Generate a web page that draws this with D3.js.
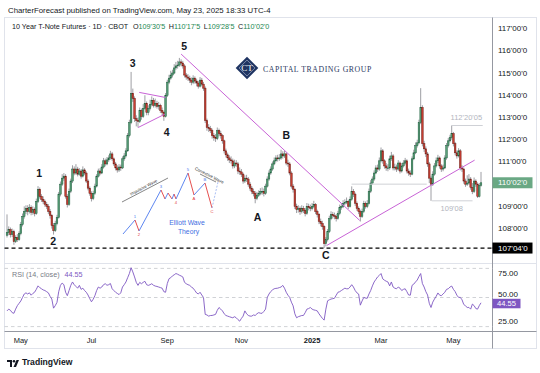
<!DOCTYPE html>
<html lang="en">
<head>
<meta charset="UTF-8">
<title>10 Year T-Note Futures - 1D</title>
<script src="https://d3js.org/d3.v7.min.js"></script>
<style>
  body { margin: 0; background: #fff; }
  svg { display: block; font-family: "Liberation Sans", Arial, sans-serif; }
</style>
</head>
<body>
<svg width="540" height="373"></svg>
<script>
// trading calendar (CBOT daily bars)
const firstDay = "2024-04-19", lastDay = "2025-05-23";
const holidays = ["2024-05-27", "2024-06-19", "2024-07-04", "2024-09-02", "2024-11-28",
                  "2024-12-25", "2025-01-01", "2025-01-20", "2025-02-17", "2025-04-18"];

// daily prices
const firstOpen = 107.70;
const closes = [
  107.82,107.95,107.73,107.86,107.41,107.59,107.50,107.77,108.18,108.55,
  108.77,108.91,108.77,108.95,108.73,108.86,108.68,109.23,109.77,109.45,
  109.32,109.23,109.09,109.00,108.77,108.59,108.14,107.91,108.23,108.50,
  109.55,110.00,110.27,110.36,109.45,109.09,109.68,110.14,110.68,110.50,
  110.68,110.45,110.59,110.36,110.64,110.50,110.14,109.82,109.59,109.36,
  109.59,109.91,110.36,110.59,110.50,110.77,111.05,110.91,111.09,111.18,
  111.36,111.14,110.91,110.73,110.64,110.77,110.73,111.14,111.27,111.50,
  112.18,112.77,114.09,113.86,112.95,112.86,112.82,113.32,113.05,113.41,
  113.64,113.23,113.41,113.59,113.77,113.55,113.64,113.50,113.55,113.32,
  113.23,113.05,114.00,114.59,114.77,114.91,115.00,115.23,115.32,115.36,
  115.50,115.45,115.32,114.91,114.82,114.77,114.68,114.59,114.77,114.64,
  114.55,114.41,114.68,114.50,114.32,112.86,112.55,112.50,112.41,112.18,
  112.09,112.05,112.41,112.27,112.18,111.95,111.50,111.32,111.18,111.09,
  111.05,110.82,110.95,110.91,110.59,110.55,110.45,110.14,110.27,110.23,
  110.00,109.82,109.68,109.59,109.36,109.50,109.59,109.68,109.68,109.59,
  109.91,110.23,110.50,110.68,110.91,111.05,111.18,111.14,111.18,111.36,
  111.27,111.36,110.95,110.91,110.50,109.91,109.77,109.00,108.86,108.91,
  108.77,108.91,108.82,108.68,109.00,108.95,108.91,109.00,109.09,108.77,
  108.64,108.32,108.23,108.09,107.32,107.50,107.86,108.45,108.64,108.59,
  108.55,108.45,108.68,108.95,109.00,109.14,109.18,109.23,109.00,109.32,
  109.68,109.55,109.14,108.91,108.77,108.55,108.77,109.14,109.00,109.14,
  109.68,110.05,110.23,110.50,110.73,110.68,111.05,111.50,111.05,110.82,
  110.73,110.73,111.14,111.27,110.73,110.77,110.68,110.95,110.59,110.82,
  110.95,111.05,110.59,110.50,110.45,111.14,111.41,111.73,111.86,112.77,
  113.45,111.82,111.59,111.36,110.91,110.27,110.00,110.45,110.82,111.05,
  111.18,110.82,110.68,110.73,111.18,111.73,111.95,112.09,112.27,111.82,
  111.41,111.27,111.50,110.73,110.68,110.14,110.00,110.05,110.23,109.86,
  109.68,110.14,110.00,109.45,109.95,110.0625
];
const highs = [
  108.64,108.10,108.05,108.00,107.95,107.70,107.75,107.88,108.30,108.68,
  109.00,109.05,109.05,109.10,109.05,109.00,108.95,109.35,109.91,109.85,
  109.55,109.45,109.30,109.20,109.10,108.88,108.65,108.25,108.35,108.62,
  109.65,110.12,110.45,110.50,110.45,109.55,109.80,110.25,110.85,110.80,
  110.90,110.78,110.72,110.68,110.80,110.72,110.58,110.22,109.90,109.68,
  109.70,110.02,110.45,110.70,110.72,110.90,111.18,111.15,111.22,111.30,
  111.50,111.45,111.20,111.00,110.85,110.90,110.88,111.25,111.40,111.62,
  112.30,112.90,115.05,114.30,113.95,113.10,113.00,113.45,113.40,113.60,
  114.00,113.72,113.55,113.80,113.95,113.88,113.85,113.75,113.70,113.62,
  113.45,113.30,114.10,114.70,114.92,115.10,115.15,115.40,115.50,115.55,
  115.68,115.62,115.55,115.40,115.00,114.95,114.88,114.80,114.90,114.85,
  114.75,114.65,114.82,114.78,114.60,114.40,112.95,112.70,112.62,112.50,
  112.30,112.25,112.55,112.50,112.40,112.25,112.00,111.60,111.42,111.30,
  111.25,111.15,111.10,111.08,111.00,110.75,110.68,110.52,110.40,110.42,
  110.32,110.10,109.92,109.80,109.68,109.65,109.72,109.82,109.85,109.80,
  110.02,110.35,110.62,110.80,111.02,111.20,111.30,111.32,111.35,111.55,
  111.48,111.50,111.42,111.10,111.00,110.58,110.00,109.82,109.12,109.05,
  109.00,109.05,109.02,108.92,109.15,109.12,109.08,109.15,109.25,109.15,
  108.85,108.70,108.45,108.35,108.15,107.62,107.98,108.58,108.78,108.75,
  108.72,108.65,108.80,109.08,109.15,109.28,109.32,109.40,109.30,109.45,
  109.90,109.78,109.62,109.22,109.00,108.85,108.90,109.25,109.22,109.28,
  109.80,110.18,110.35,110.62,110.85,110.88,111.20,111.65,111.58,111.12,
  110.95,110.90,111.28,111.45,111.35,110.92,110.88,111.08,111.02,110.95,
  111.08,111.18,111.12,110.70,110.62,111.25,111.55,111.88,112.00,112.90,
  114.32,113.55,111.95,111.70,111.45,111.00,110.35,110.58,110.95,111.20,
  111.32,111.25,110.90,110.88,111.30,111.85,112.08,112.22,112.64,112.35,
  111.90,111.52,111.62,111.58,110.85,110.75,110.25,110.40,110.45,110.32,
  110.05,110.30,110.22,110.08,110.05,110.55
];
const lows = [
  107.60,107.70,107.60,107.62,107.27,107.35,107.40,107.45,107.70,108.10,
  108.45,108.65,108.60,108.68,108.60,108.62,108.55,108.62,109.15,109.35,
  109.20,109.10,108.98,108.88,108.65,108.45,108.00,107.73,107.85,108.15,
  108.45,109.45,109.92,110.15,109.35,108.95,109.02,109.60,110.05,110.40,
  110.42,110.35,110.38,110.25,110.30,110.40,110.05,109.72,109.48,109.22,
  109.28,109.52,109.85,110.30,110.40,110.45,110.70,110.80,110.85,111.00,
  111.10,111.05,110.82,110.62,110.52,110.55,110.60,110.68,111.05,111.20,
  111.45,112.10,112.70,113.70,112.80,112.60,112.55,112.75,112.90,112.98,
  113.35,113.10,113.10,113.32,113.50,113.45,113.45,113.40,113.35,113.20,
  113.10,112.85,113.00,113.92,114.50,114.70,114.80,114.95,115.15,115.20,
  115.28,115.30,115.20,114.80,114.70,114.65,114.55,114.45,114.50,114.52,
  114.40,114.30,114.35,114.40,114.20,112.75,112.40,112.35,112.30,112.05,
  111.95,111.90,111.98,112.15,112.05,111.82,111.38,111.20,111.05,110.95,
  110.92,110.70,110.72,110.78,110.45,110.42,110.32,110.02,110.05,110.10,
  109.88,109.70,109.55,109.45,109.14,109.28,109.42,109.50,109.52,109.45,
  109.52,109.85,110.15,110.42,110.60,110.85,110.98,111.02,111.05,111.10,
  111.15,111.18,110.85,110.78,110.40,109.80,109.62,108.88,108.70,108.72,
  108.62,108.68,108.70,108.55,108.62,108.82,108.78,108.82,108.92,108.65,
  108.50,108.20,108.10,107.95,107.125,107.20,107.42,107.80,108.38,108.45,
  108.42,108.32,108.40,108.60,108.85,108.92,109.05,109.10,108.88,108.95,
  109.25,109.42,109.02,108.80,108.65,108.32,108.48,108.70,108.90,108.92,
  109.08,109.60,109.98,110.15,110.45,110.55,110.60,110.98,110.92,110.70,
  110.60,110.58,110.65,111.05,110.62,110.62,110.55,110.60,110.48,110.52,
  110.75,110.88,110.48,110.38,110.32,110.40,111.08,111.35,111.65,111.80,
  112.70,111.70,111.45,111.22,110.78,110.05,109.25,109.92,110.38,110.75,
  110.95,110.70,110.55,110.58,110.68,111.10,111.65,111.88,112.00,111.70,
  111.30,111.15,111.20,110.62,110.55,110.02,109.88,109.92,109.98,109.75,
  109.55,109.60,109.88,109.38,109.40,109.89
];
// RSI (14, close)
const rsi = [
  36.2,38,36.8,34.4,33.7,38,41.6,44,46.4,50,
  53.6,54.8,53.6,54.8,52.4,54.2,55.4,58.4,62,60.2,
  59,57.8,57.2,56,54.8,51.2,48.4,39,41.6,45,
  56,62.5,64.9,63.2,55.4,51.9,57.2,62.5,66,63.2,
  61.4,59.6,62.5,58.4,59.6,57.2,55.4,52.6,48.8,45.6,
  48.2,51.9,57.2,60.8,59.6,60.8,63.2,64.2,62.6,63.2,
  64.4,59,57.2,55.4,54.2,53,54.8,60.8,63.2,66,
  70.4,74.7,80.7,76.4,71.2,65.6,62.5,65.6,64.2,65.6,
  66.7,63.2,62.5,63.2,64.2,62.6,61.8,61.4,60.8,60.2,
  59.6,56,55.4,64.4,69.4,70.4,72.3,73.4,74.7,74,
  73,72.2,71.2,65.6,64.2,63.2,62.5,60.8,59.6,57.2,
  54.7,53.6,55.4,52.6,50,32.6,32,30.8,31.4,31.5,
  32,32.6,36.8,39.7,38,36.2,33.2,31.5,30.8,30.2,
  29.6,29.1,30.2,29.1,27.2,25.6,28.4,30.8,36.2,33.2,
  31.5,30.8,30.8,32,31.5,33.2,34.4,33.8,33.7,35.6,
  38,50.1,53.6,56.1,57.8,59,59.4,59.6,60.2,60.8,
  62.5,59.6,55.4,52.4,50.1,45.2,41.4,33.2,29.1,30.2,
  30.8,31.4,31.5,34.4,38,38.6,39.7,38,37.2,36.8,
  36.2,33.2,30.8,28.4,26.7,38,46.6,47.6,48.4,48.8,
  49.2,52.4,55.4,56,57.2,58.4,59.6,59,59,60.8,
  63.2,60.8,57.2,54.8,53.6,42.1,46.4,50.1,49.4,49.2,
  53.6,57.2,62,66,68.6,71.2,72.8,74.7,69.2,67.8,
  66.8,66,62,66,60.8,59.6,59,60.8,59.6,57.2,
  58.4,59,56,52.6,52.4,62.5,63.8,66,68,71.6,
  74.7,64.4,60.8,56,52.6,44,39.7,45.2,48.4,51.2,
  54.7,52.4,51.9,53.6,55.4,58.4,59,60.8,61.8,58.4,
  56.1,52.4,50.1,50.1,47.6,42.8,41.4,39.7,39.8,38,
  43.2,41.6,38.6,38,41.6,44.55
];

// axes
const priceTicks = [108, 109, 111, 112, 113, 114, 115, 116, 117];
const rsiTicks = [75, 50, 25];
const rsiBands = [80, 50, 20];
const timeTicks = ["2024-05-01", "2024-07-01", "2024-09-03", "2024-11-01", "2025-01-02", "2025-03-03", "2025-05-01"];
const timeTickLabels = ["May", "Jul", "Sep", "Nov", "2025", "Mar", "May"];

// drawings (bar position, price)
const waveLabels = ["1", "2", "3", "4", "5", "A", "B", "C"];
const waveBar = [18.6, 26.8, 72.9, 92.6, 102.8, 145.3, 162.1, 184.9];
const wavePrice = [110.49, 107.44, 115.44, 112.35, 116.23, 108.52, 112.23, 106.79];
const trendLines = [
  [[101, 115.855], [204.6, 108.37]],
  [[185.5, 107.24], [271.3, 111.08]],
  [[76.7, 114.13], [92.0, 113.90]],
  [[76.1, 112.55], [91.6, 113.15]]
];
const supportPrice = 107.125;
const greyLevels = [[199.9, 243.5, 110.0], [246.4, 270.1, 109.25], [258, 276, 112.64]];
const hiLoText = ["112'20'05", "109'08"];
const legendOHLC = [["O", "109'30'5"], ["H", "110'17'5"], ["L", "109'28'5"], ["C", "110'02'0"]];
const lastPrice = 110.0625, lastRsi = 44.55;

// Elliott wave sketch (schematic units)
const ewX = [3, 15, 19, 41, 45, 48, 52, 54, 56, 68, 74, 85, 92, 98];
const ewY = [64, 50, 61, 20, 29, 23, 29, 24, 29, 3, 25, 13, 38, 12];
const ewTags = ["", "1", "2", "3", "", "", "", "", "4", "5", "A", "B", "C", ""];

// ---------- build ----------
const dates = [];
for (let d = new Date(firstDay + "T12:00:00Z"); d <= new Date(lastDay + "T12:00:00Z"); d.setUTCDate(d.getUTCDate() + 1)) {
  const wd = d.getUTCDay(), iso = d.toISOString().slice(0, 10);
  if (wd !== 0 && wd !== 6 && !holidays.includes(iso)) dates.push(iso);
}
const n = Math.min(dates.length, closes.length);
const bars = d3.range(n).map(i => ({
  date: dates[i],
  o: i === 0 ? firstOpen : closes[i - 1],
  h: highs[i], l: lows[i], c: closes[i], r: rsi[i]
}));

const svg = d3.select("svg");
const axisX = 492.5, frameL = 4.5, frameR = 536.5, frameT = 17.5, paneSep = 263.5, timeTop = 331.5, frameB = 348.5;

const x = d3.scalePoint().domain(bars.map(d => d.date)).range([7, 481]);
const xi = i => x.range()[0] + i * x.step();
const y = d3.scaleLinear().domain([108, 117]).range([228.6, 28.6]);
const yR = d3.scaleLinear().domain([20, 80]).range([326.6, 268.4]);
const fmt32 = p => `${p}'00'0`;

const defs = svg.append("defs");
defs.append("clipPath").attr("id", "main").append("rect")
  .attr("x", frameL).attr("y", frameT).attr("width", axisX - frameL).attr("height", paneSep - frameT);
defs.append("clipPath").attr("id", "rsi").append("rect")
  .attr("x", frameL).attr("y", paneSep).attr("width", axisX - frameL).attr("height", timeTop - paneSep);

// header
svg.append("text").attr("x", 8).attr("y", 13).attr("font-size", 7.8).attr("fill", "#131722")
  .text("CharterForecast published on TradingView.com, May 23, 2025 18:33 UTC-4");

// frame
svg.append("rect").attr("x", frameL).attr("y", frameT).attr("width", frameR - frameL).attr("height", frameB - frameT)
  .attr("fill", "none").attr("stroke", "#e0e3eb");
svg.append("line").attr("x1", frameL).attr("x2", frameR).attr("y1", paneSep).attr("y2", paneSep).attr("stroke", "#e0e3eb");
svg.append("line").attr("x1", frameL).attr("x2", frameR).attr("y1", timeTop).attr("y2", timeTop).attr("stroke", "#9598a1");
svg.append("line").attr("x1", axisX).attr("x2", axisX).attr("y1", frameT).attr("y2", frameB).attr("stroke", "#9598a1");

// legend
const lg = svg.append("text").attr("x", 12).attr("y", 28.5).attr("font-size", 7.2).attr("fill", "#131722");
lg.append("tspan").text("10 Year T-Note Futures · 1D · CBOT");
legendOHLC.forEach(([k, v], i) => {
  lg.append("tspan").attr("dx", i === 0 ? 5 : 3.5).attr("fill", "#131722").text(k);
  lg.append("tspan").attr("fill", "#22864f").text(v);
});

// Capital Trading Group logo
const logo = svg.append("g").attr("transform", "translate(247,68)");
logo.append("rect").attr("x", -8).attr("y", -8).attr("width", 16).attr("height", 16)
  .attr("transform", "rotate(45)").attr("fill", "#1f3462");
logo.append("rect").attr("x", -5.6).attr("y", -5.6).attr("width", 11.2).attr("height", 11.2)
  .attr("transform", "rotate(45)").attr("fill", "none").attr("stroke", "#c9d1e4").attr("stroke-width", 0.5);
logo.append("text").attr("y", 3).attr("text-anchor", "middle").attr("font-family", "Liberation Serif, serif")
  .attr("font-size", 9).attr("fill", "#fff").text("CT");
svg.append("text").attr("x", 263).attr("y", 71.5).attr("font-family", "Liberation Serif, serif")
  .attr("font-size", 7.8).attr("letter-spacing", 0.55).attr("fill", "#2d3a63").text("CAPITAL TRADING GROUP");

// candles
const main = svg.append("g").attr("clip-path", "url(#main)");
main.selectAll("line.wick").data(bars).join("line").attr("class", "wick")
  .attr("x1", (d, i) => xi(i)).attr("x2", (d, i) => xi(i))
  .attr("y1", d => y(d.h)).attr("y2", d => y(d.l))
  .attr("stroke", "#85878d").attr("stroke-width", 0.8);
main.selectAll("rect.body").data(bars).join("rect").attr("class", "body")
  .attr("x", (d, i) => xi(i) - 0.8).attr("width", 1.6)
  .attr("y", d => y(Math.max(d.o, d.c)))
  .attr("height", d => Math.max(0.8, Math.abs(y(d.o) - y(d.c))))
  .attr("fill", d => d.c >= d.o ? "#5a9f79" : "#c93f33")
  .attr("stroke", d => d.c >= d.o ? "#1c5e3c" : "#6e1a12").attr("stroke-width", 0.5);

// trend lines
main.selectAll("line.trend").data(trendLines).join("line").attr("class", "trend")
  .attr("x1", d => xi(d[0][0])).attr("y1", d => y(d[0][1]))
  .attr("x2", d => xi(d[1][0])).attr("y2", d => y(d[1][1]))
  .attr("stroke", "#c863d6").attr("stroke-width", 1);

// grey levels and high/low tags
main.selectAll("line.lvl").data(greyLevels).join("line").attr("class", "lvl")
  .attr("x1", d => xi(d[0])).attr("x2", d => xi(d[1])).attr("y1", d => y(d[2])).attr("y2", d => y(d[2]))
  .attr("stroke", "#cfd1d6").attr("stroke-width", 1);
svg.append("text").attr("x", xi(266.5)).attr("y", y(greyLevels[2][2]) - 5).attr("text-anchor", "middle")
  .attr("font-size", 7.5).attr("fill", "#b2b5be").text(hiLoText[0]);
svg.append("text").attr("x", xi(258)).attr("y", y(greyLevels[1][2]) + 10.5).attr("text-anchor", "middle")
  .attr("font-size", 7.5).attr("fill", "#b2b5be").text(hiLoText[1]);

// support dashed line
svg.append("line").attr("x1", frameL).attr("x2", axisX).attr("y1", y(supportPrice)).attr("y2", y(supportPrice))
  .attr("stroke", "#000").attr("stroke-width", 1.2).attr("stroke-dasharray", "4,3");

// wave labels
svg.selectAll("text.wave").data(waveLabels).join("text").attr("class", "wave")
  .attr("x", (d, i) => xi(waveBar[i])).attr("y", (d, i) => y(wavePrice[i]))
  .attr("text-anchor", "middle").attr("dominant-baseline", "central")
  .attr("font-size", 10.5).attr("font-weight", 700).attr("fill", "#131722").text(d => d);

// Elliott wave sketch
const ex = d3.scaleLinear().domain([0, 100]).range([120, 220]);
const ey = d3.scaleLinear().domain([0, 65]).range([170, 235]);
const sketch = svg.append("g");
d3.range(ewX.length - 1).forEach(i => {
  const up = ewY[i + 1] < ewY[i], last = i === ewX.length - 2;
  sketch.append("line")
    .attr("x1", ex(ewX[i])).attr("y1", ey(ewY[i])).attr("x2", ex(ewX[i + 1])).attr("y2", ey(ewY[i + 1]))
    .attr("stroke", last ? "#9fb7f2" : up ? "#4b78ee" : "#e23b3b").attr("stroke-width", 0.9)
    .attr("stroke-dasharray", last ? "2,1.5" : null);
});
ewTags.forEach((t, i) => {
  if (!t) return;
  const peak = i > 0 && ewY[i] < ewY[i - 1];
  sketch.append("text").attr("x", ex(ewX[i])).attr("y", ey(ewY[i]) + (peak ? -2 : 5))
    .attr("text-anchor", "middle").attr("font-size", 4.2)
    .attr("fill", peak ? "#4b78ee" : "#e23b3b").text(t);
});
const notes = [
  { text: "Impulsive Wave", a: [2, 32], b: [48, 8] },
  { text: "Corrective Wave", a: [80, 4], b: [96, 12] }
];
notes.forEach(nt => {
  const x1 = ex(nt.a[0]), y1 = ey(nt.a[1]), x2 = ex(nt.b[0]), y2 = ey(nt.b[1]);
  const ang = Math.atan2(y2 - y1, x2 - x1) * 180 / Math.PI;
  sketch.append("line").attr("x1", x1).attr("y1", y1).attr("x2", x2).attr("y2", y2)
    .attr("stroke", "#333").attr("stroke-width", 0.6);
  sketch.append("text").attr("transform", `translate(${(x1 + x2) / 2},${(y1 + y2) / 2}) rotate(${ang}) translate(0,-1.5)`)
    .attr("text-anchor", "middle").attr("font-size", 4.3).attr("fill", "#333").text(nt.text);
});
sketch.append("text").attr("x", 187).attr("y", 224.5).attr("text-anchor", "middle")
  .attr("font-size", 6.8).attr("fill", "#3f6fe2").text("Elliott Wave");
sketch.append("text").attr("x", 188.5).attr("y", 233.5).attr("text-anchor", "middle")
  .attr("font-size", 6.8).attr("fill", "#3f6fe2").text("Theory");

// price axis
svg.selectAll("text.pt").data(priceTicks).join("text").attr("class", "pt")
  .attr("x", 498).attr("y", d => y(d)).attr("dominant-baseline", "central")
  .attr("font-size", 8).attr("fill", "#131722").text(fmt32);
const tag = (yy, fill, label, w) => {
  svg.append("rect").attr("x", axisX).attr("y", yy - 5.5).attr("width", w).attr("height", 11).attr("fill", fill);
  svg.append("text").attr("x", 498).attr("y", yy).attr("dominant-baseline", "central")
    .attr("font-size", 8).attr("fill", "#fff").text(label);
};
svg.append("line").attr("x1", axisX).attr("x2", axisX + 4).attr("y1", y(supportPrice)).attr("y2", y(supportPrice)).attr("stroke", "#000");
tag(y(supportPrice), "#000", "107'04'0", 40);
tag(y(lastPrice), "#6aa884", "110'02'0", 40);

// RSI pane
svg.selectAll("line.band").data(rsiBands).join("line").attr("class", "band")
  .attr("x1", frameL).attr("x2", axisX).attr("y1", d => yR(d)).attr("y2", d => yR(d))
  .attr("stroke", "#c4c6cc").attr("stroke-width", 0.8).attr("stroke-dasharray", "3.5,3");
svg.append("g").attr("clip-path", "url(#rsi)").append("path").datum(bars)
  .attr("d", d3.line().x((d, i) => xi(i)).y(d => yR(d.r)))
  .attr("fill", "none").attr("stroke", "#7e57c2").attr("stroke-width", 0.9);
// 50.00 sits just above the last-value tag, as on the original scale
svg.selectAll("text.rt").data(rsiTicks).join("text").attr("class", "rt")
  .attr("x", 498).attr("y", d => yR(d) - (d === 50 ? 3 : 0)).attr("dominant-baseline", "central")
  .attr("font-size", 8).attr("fill", "#131722").text(d => d.toFixed(2));
svg.append("rect").attr("x", axisX).attr("y", yR(lastRsi) - 4).attr("width", 28).attr("height", 9.5).attr("fill", "#7e57c2");
svg.append("text").attr("x", 497).attr("y", yR(lastRsi) + 0.8).attr("dominant-baseline", "central")
  .attr("font-size", 7.6).attr("fill", "#fff").text(lastRsi.toFixed(2));
const rl = svg.append("text").attr("x", 12).attr("y", 276.5).attr("font-size", 7.2);
rl.append("tspan").attr("fill", "#787b86").text("RSI (14, close)");
rl.append("tspan").attr("dx", 5).attr("fill", "#7e57c2").text(lastRsi.toFixed(2));

// time axis
svg.selectAll("text.tt").data(timeTicks).join("text").attr("class", "tt")
  .attr("x", d => x(d)).attr("y", 340).attr("text-anchor", "middle").attr("dominant-baseline", "central")
  .attr("font-size", 7.5).attr("font-weight", (d, i) => /^\d+$/.test(timeTickLabels[i]) ? 700 : 400)
  .attr("fill", "#131722").text((d, i) => timeTickLabels[i]);

// TradingView mark
const tv = svg.append("g").attr("transform", "translate(7,360)");
tv.append("path").attr("d", "M0,0 H5 V7 H3 V2 H0 Z").attr("fill", "#131722");
tv.append("circle").attr("cx", 7).attr("cy", 1.3).attr("r", 1.3).attr("fill", "#131722");
tv.append("path").attr("d", "M9.5,0 H12 L9,7 H6.5 Z").attr("fill", "#131722");
svg.append("text").attr("x", 22).attr("y", 364.5).attr("font-size", 8.6).attr("font-weight", 600)
  .attr("fill", "#131722").text("TradingView");
</script>
</body>
</html>
